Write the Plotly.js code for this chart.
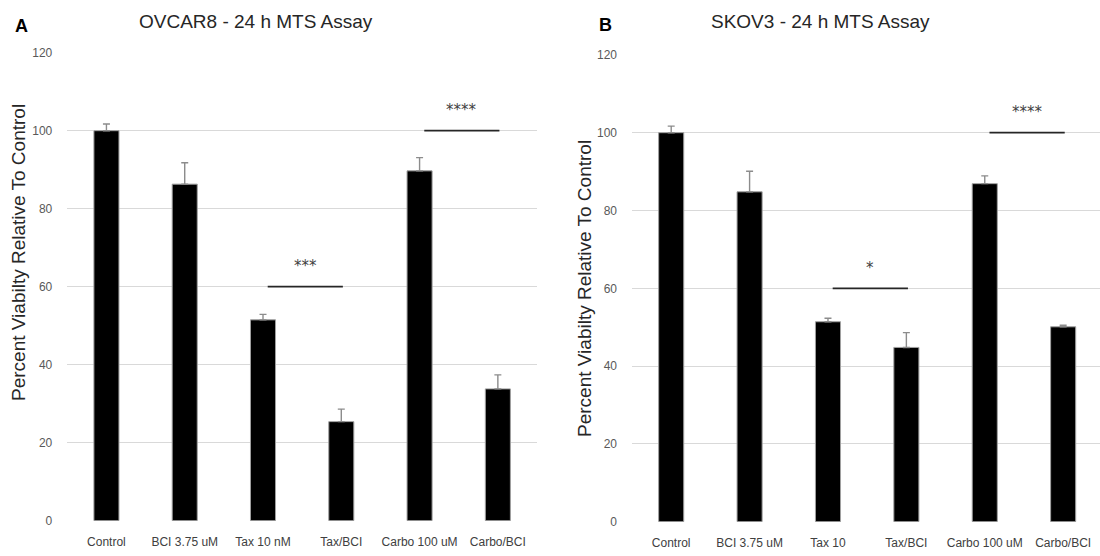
<!DOCTYPE html>
<html>
<head>
<meta charset="utf-8">
<script src="https://cdn.plot.ly/plotly-3.0.1.min.js"></script>
<style>html,body{margin:0;padding:0;background:#fff;}#chart{width:1100px;height:556px;}</style>
</head>
<body>
<div id="chart"></div>
<script>
// ---- Data ----
const categoriesA = ['Control', 'BCI 3.75 uM', 'Tax 10 nM', 'Tax/BCI', 'Carbo 100 uM', 'Carbo/BCI'];
const valuesA = [100, 86.3, 51.5, 25.4, 89.7, 33.8];
const errorsA = [1.7, 5.5, 1.4, 3.2, 3.4, 3.6];

const categoriesB = ['Control', 'BCI 3.75 uM', 'Tax 10', 'Tax/BCI', 'Carbo 100 uM', 'Carbo/BCI'];
const valuesB = [100, 84.8, 51.4, 44.8, 86.9, 50.1];
const errorsB = [1.7, 5.3, 0.9, 3.8, 2.0, 0.4];

const yTicks = [0, 20, 40, 60, 80, 100, 120];

// significance brackets: from category index, to category index, level, label
const sigFromA = [2, 4];
const sigToA = [3, 5];
const sigLevelA = [60, 100];
const sigLabelA = ['***', '****'];

const sigFromB = [2, 4];
const sigToB = [3, 5];
const sigLevelB = [60, 100];
const sigLabelB = ['*', '****'];

const titleA = 'OVCAR8 - 24 h MTS Assay';
const titleB = 'SKOV3 - 24 h MTS Assay';
const yTitle = 'Percent Viabilty Relative To Control';

// ---- Styling ----
const FONT = 'Liberation Sans, Arial, sans-serif';
const W = 1100, H = 556;
const px = v => v / W;
const py = v => 1 - v / H;

function barTrace(cats, vals, errs, xa, ya) {
  return {
    type: 'bar', x: cats, y: vals, xaxis: xa, yaxis: ya, width: 0.32,
    marker: {color: '#000000', line: {color: '#a0a0a0', width: 1}},
    error_y: {type: 'data', symmetric: false, array: errs, arrayminus: errs.map(() => 0),
              color: '#8c8c8c', thickness: 1.4, width: 3.5},
    hoverinfo: 'x+y'
  };
}

const traces = [
  barTrace(categoriesA, valuesA, errorsA, 'x', 'y'),
  barTrace(categoriesB, valuesB, errorsB, 'x2', 'y2')
];

const shapes = [];
const annotations = [];
function addSig(from, to, level, label, xr, yr) {
  for (let i = 0; i < from.length; i++) {
    shapes.push({type: 'line', xref: xr, yref: yr, x0: from[i] + 0.06, x1: to[i] + 0.02, y0: level[i], y1: level[i],
                 line: {color: '#262626', width: 1.8}});
    annotations.push({xref: xr, yref: yr, x: (from[i] + to[i]) / 2 + 0.04, y: level[i] + 5.2, text: label[i],
                      showarrow: false, xanchor: 'center', yanchor: 'middle',
                      font: {family: 'DejaVu Sans', size: 15, color: '#404040'}});
  }
}
addSig(sigFromA, sigToA, sigLevelA, sigLabelA, 'x', 'y');
addSig(sigFromB, sigToB, sigLevelB, sigLabelB, 'x2', 'y2');

function paperText(x, y, text, size, color, angle) {
  return {xref: 'paper', yref: 'paper', x: px(x), y: py(y), text: text, showarrow: false,
          xanchor: 'center', yanchor: 'middle', textangle: angle || 0,
          font: {family: FONT, size: size, color: color}};
}
annotations.push(
  paperText(256, 22, titleA, 19, '#262626'),
  paperText(820, 22, titleB, 19, '#262626'),
  paperText(21, 26, '<b>A</b>', 18, '#000000'),
  paperText(605, 25, '<b>B</b>', 18, '#000000'),
  paperText(18, 253, yTitle, 19, '#262626', -90),
  paperText(584, 289, yTitle, 19, '#262626', -90)
);

function xAxis(domain, range) {
  return {domain: domain, type: 'category', range: range, showgrid: false, zeroline: false,
          showline: false, ticks: '', ticklabelstandoff: 12, fixedrange: true,
          tickfont: {family: FONT, size: 12, color: '#404040'}};
}
function yAxis(domain, anchor) {
  return {domain: domain, anchor: anchor, range: [0, 120], tickvals: yTicks, ticktext: yTicks.map(String),
          showgrid: true, gridcolor: '#d9d9d9', gridwidth: 1, zeroline: false, showline: false,
          ticks: '', ticklabelstandoff: 14, fixedrange: true,
          tickfont: {family: FONT, size: 12, color: '#595959'}};
}

const layout = {
  width: W, height: H,
  margin: {l: 0, r: 0, t: 0, b: 0},
  paper_bgcolor: '#ffffff', plot_bgcolor: '#ffffff',
  showlegend: false,
  bargap: 0,
  xaxis: Object.assign(xAxis([px(67.3), px(537)], [-0.5, 5.5]), {anchor: 'y'}),
  yaxis: yAxis([(H - 520.7) / H, (H - 52.7) / H], 'x'),
  xaxis2: Object.assign(xAxis([px(632), 1], [-0.5, 5.47]), {anchor: 'y2'}),
  yaxis2: yAxis([(H - 521.7) / H, (H - 54.9) / H], 'x2'),
  shapes: shapes,
  annotations: annotations
};

Plotly.newPlot('chart', traces, layout, {displayModeBar: false, staticPlot: true});
</script>
</body>
</html>
